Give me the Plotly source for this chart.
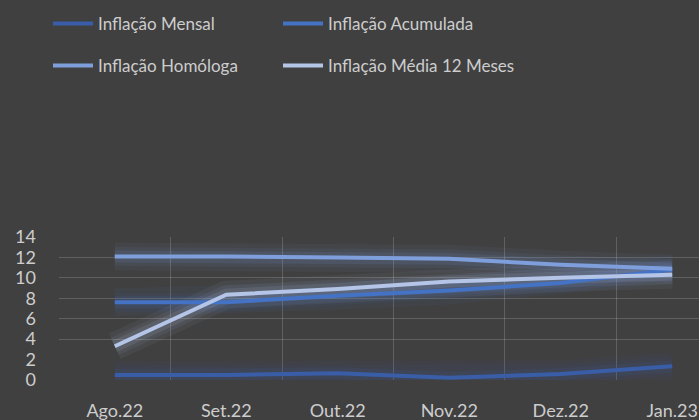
import plotly.graph_objects as go

categories = ["Ago.22", "Set.22", "Out.22", "Nov.22", "Dez.22", "Jan.23"]
mensal = [0.49, 0.49, 0.65, 0.23, 0.59, 1.34]
acumulada = [7.62, 7.62, 8.24, 8.77, 9.49, 10.82]
homologa = [12.1, 12.1, 12.0, 11.87, 11.29, 10.89]
media12 = [3.3, 8.35, 8.9, 9.65, 10.0, 10.3]

series_names = ["Inflação Mensal", "Inflação Acumulada", "Inflação Homóloga", "Inflação Média 12 Meses"]
series_values = [mensal, acumulada, homologa, media12]
series_colors = ["#3A5DA8", "#4472C4", "#7F9FDC", "#B4C5E8"]
glow_rgb = ["58,93,168", "68,114,196", "127,159,220", "180,197,232"]
legend_ids = ["legend", "legend2", "legend3", "legend4"]

y_ticks = [0, 2, 4, 6, 8, 10, 12, 14]
grid_ticks = [4, 6, 8, 10, 12, 14]

BG = "#404040"
TXT = "#CDCDCD"
FONT = "Lato, 'Open Sans', sans-serif"

fig = go.Figure()

# glow layers
for vals, rgb in zip(series_values, glow_rgb):
    for w, a in [(28, 0.06), (19, 0.08), (12, 0.12)]:
        fig.add_trace(go.Scatter(
            x=categories, y=vals, mode="lines",
            line=dict(color=f"rgba({rgb},{a})", width=w),
            showlegend=False, hoverinfo="skip"))

for name, vals, col, lg in zip(series_names, series_values, series_colors, legend_ids):
    fig.add_trace(go.Scatter(
        x=categories, y=vals, mode="lines", name=name,
        line=dict(color=col, width=4), legend=lg))

# overlay axis used only for the gridlines (bottom gridlines fade out in the reference)
fig.add_trace(go.Scatter(x=[categories[0]], y=[None], yaxis="y2", showlegend=False, hoverinfo="skip"))

legend_common = dict(
    orientation="h", xref="container", yref="container",
    xanchor="left", yanchor="middle",
    font=dict(size=17, color=TXT, family=FONT),
    bgcolor="rgba(0,0,0,0)", itemwidth=40,
)
col_x = [48 / 699, 278 / 699]
row_y = [1 - 24 / 420, 1 - 66 / 420]

fig.update_layout(
    width=699, height=420,
    paper_bgcolor=BG, plot_bgcolor=BG,
    margin=dict(l=59, r=0, t=237, b=40, autoexpand=False),
    font=dict(family=FONT, color=TXT),
    xaxis=dict(
        type="category", range=[-0.5, 5.24], automargin=False,
        tickson="boundaries", showgrid=True,
        gridcolor="rgba(255,255,255,0.17)", gridwidth=1,
        showline=False, zeroline=False, ticks="",
        tickfont=dict(size=18, color=TXT, family=FONT),
        ticklabelstandoff=18,
    ),
    yaxis=dict(
        range=[0, 14], tickvals=y_ticks, automargin=False,
        showgrid=False, zeroline=False, showline=False,
        tickfont=dict(size=18, color=TXT, family=FONT),
        ticklabelstandoff=22,
    ),
    yaxis2=dict(
        range=[0, 14], overlaying="y", tickvals=grid_ticks,
        showgrid=True, gridcolor="rgba(255,255,255,0.17)", gridwidth=1,
        showticklabels=False, zeroline=False, showline=False,
    ),
    legend=dict(legend_common, x=col_x[0], y=row_y[0]),
    legend2=dict(legend_common, x=col_x[1], y=row_y[0]),
    legend3=dict(legend_common, x=col_x[0], y=row_y[1]),
    legend4=dict(legend_common, x=col_x[1], y=row_y[1]),
)

fig.write_html(
    "out.html",
    config={"displayModeBar": False},
    post_script="document.body.style.margin='0';document.body.style.padding='0';",
)
